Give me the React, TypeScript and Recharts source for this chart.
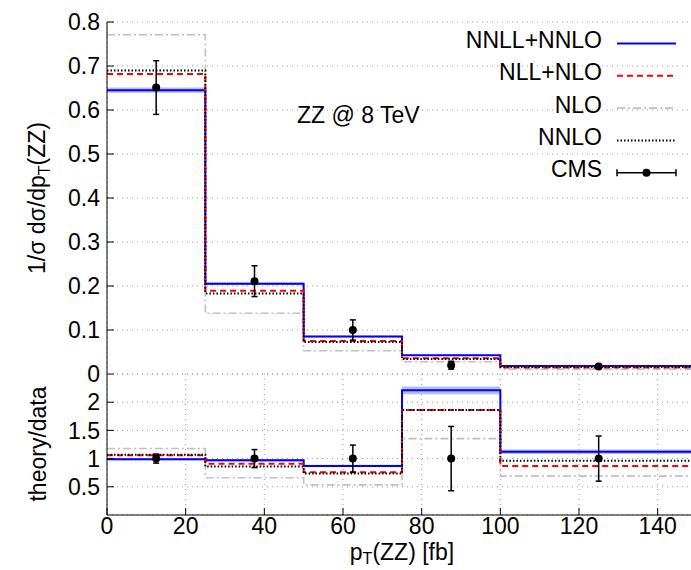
import React from 'react';
import { ComposedChart, Line, Area, Scatter, ErrorBar, XAxis, YAxis, CartesianGrid } from 'recharts';

// ---- data ----
const binEdges = [0, 25, 50, 75, 100, 150];

const nnllNnlo = [0.645, 0.205, 0.085, 0.0425, 0.018];
const nnllNnloUnc = [0.006, 0.003, 0.002, 0.0015, 0.001];
const nllNlo = [0.682, 0.189, 0.075, 0.036, 0.015];
const nlo = [0.771, 0.138, 0.053, 0.028, 0.011];
const nnlo = [0.69, 0.183, 0.073, 0.034, 0.016];

const cmsX = [12.5, 37.5, 62.5, 87.5, 125];
const cmsY = [0.651, 0.211, 0.1, 0.02, 0.017];
const cmsErr = [0.061, 0.035, 0.023, 0.009, 0.004];

const ratioNnllNnlo = [0.99, 0.97, 0.87, 2.21, 1.12];
const ratioNnllNnloUnc = [0.02, 0.02, 0.02, 0.07, 0.04];
const ratioNllNlo = [1.06, 0.91, 0.76, 1.86, 0.87];
const ratioNlo = [1.18, 0.66, 0.535, 1.355, 0.69];
const ratioNnlo = [1.07, 0.86, 0.735, 1.86, 0.96];
const ratioCms = [1, 1, 1, 1, 1];
const ratioCmsErr = [0.08, 0.16, 0.24, 0.57, 0.4];

const xTicks = [0, 20, 40, 60, 80, 100, 120, 140];
const topYTicks = [0, 0.1, 0.2, 0.3, 0.4, 0.5, 0.6, 0.7, 0.8];
const bottomYTicks = [0.5, 1, 1.5, 2];

const legendLabels = ['NNLL+NNLO', 'NLL+NLO', 'NLO', 'NNLO', 'CMS'];
const annotation = 'ZZ @ 8 TeV';

// ---- build tables ----
const buildSteps = (a: number[], b: number[], c: number[], d: number[], band: number[]) =>
  binEdges.map((x, i) => {
    const k = Math.min(i, a.length - 1);
    return {
      x,
      nnll: a[k],
      nll: b[k],
      nlo: c[k],
      nnlo: d[k],
      band: [a[k] - band[k], a[k] + band[k]],
    };
  });

const topData = buildSteps(nnllNnlo, nllNlo, nlo, nnlo, nnllNnloUnc);
const bottomData = buildSteps(ratioNnllNnlo, ratioNllNlo, ratioNlo, ratioNnlo, ratioNnllNnloUnc);
const cmsTop = cmsX.map((x, i) => ({ x, y: cmsY[i], err: cmsErr[i] }));
const cmsBottom = cmsX.map((x, i) => ({ x, y: ratioCms[i], err: ratioCmsErr[i] }));

const FONT = "'Liberation Sans', Arial, Helvetica, sans-serif";
const FS = 23;

const BLUE = '#0000ff';
const RED = '#ff0000';
const GRAY = '#c0c0c0';
const BAND = '#b8bcf2';

const dotShape = (p: any) => <circle cx={p.cx} cy={p.cy} r={4} fill="#000" />;

const tickStyle = { fontSize: FS, fill: '#000', fontFamily: FONT };
const axisLine = { stroke: '#000', strokeWidth: 1 };

const seriesLines = () => [
  <Area key="band" type="stepAfter" dataKey="band" stroke="none" fill={BAND} fillOpacity={1} isAnimationActive={false} activeDot={false} />,
  <Line key="nlo" type="stepAfter" dataKey="nlo" stroke={GRAY} strokeWidth={1.6} strokeDasharray="8 3 2 3" dot={false} activeDot={false} isAnimationActive={false} />,
  <Line key="nnll" type="stepAfter" dataKey="nnll" stroke={BLUE} strokeWidth={2} dot={false} activeDot={false} isAnimationActive={false} />,
  <Line key="nll" type="stepAfter" dataKey="nll" stroke={RED} strokeWidth={2} strokeDasharray="6 4" dot={false} activeDot={false} isAnimationActive={false} />,
  <Line key="nnlo" type="stepAfter" dataKey="nnlo" stroke="#000" strokeWidth={2} strokeDasharray="1.5 2" dot={false} activeDot={false} isAnimationActive={false} />,
];

const W = 720;
const H = 570;

export default function App() {
  return (
    <div style={{ position: 'absolute', left: 0, top: 0, width: 691, height: 570, overflow: 'hidden', background: '#fff' }}>
      {/* top panel */}
      <div style={{ position: 'absolute', left: 0, top: 0 }}>
        <ComposedChart width={W} height={H} data={topData} margin={{ top: 22, right: 23, bottom: 196, left: 0 }}>
          <CartesianGrid stroke="#9a9a9a" strokeDasharray="1 4" />
          <XAxis type="number" dataKey="x" domain={[0, 150]} ticks={xTicks} interval={0} allowDataOverflow height={0}
            tick={false} tickSize={-7} axisLine={axisLine} tickLine={axisLine} />
          <XAxis xAxisId="top" orientation="top" type="number" dataKey="x" domain={[0, 150]} ticks={xTicks} interval={0} allowDataOverflow height={0}
            tick={false} tickSize={-7} axisLine={axisLine} tickLine={axisLine} />
          <YAxis type="number" domain={[0, 0.8]} ticks={topYTicks} interval={0} allowDataOverflow width={107}
            tickSize={-7} tickMargin={14} tick={tickStyle} axisLine={axisLine} tickLine={axisLine} tickFormatter={(v: number) => String(v)} />
          {seriesLines()}
          <Scatter data={cmsTop} dataKey="y" fill="#000" shape={dotShape} isAnimationActive={false}>
            <ErrorBar dataKey="err" direction="y" width={3} stroke="#000" strokeWidth={1.5} isAnimationActive={false} />
          </Scatter>
        </ComposedChart>
      </div>
      {/* ratio panel */}
      <div style={{ position: 'absolute', left: 0, top: 0 }}>
        <ComposedChart width={W} height={H} data={bottomData} margin={{ top: 374, right: 23, bottom: 0, left: 0 }}>
          <CartesianGrid stroke="#9a9a9a" strokeDasharray="1 4" />
          <XAxis type="number" dataKey="x" domain={[0, 150]} ticks={xTicks} interval={0} allowDataOverflow height={55}
            tickSize={-7} tickMargin={10} tick={tickStyle} axisLine={axisLine} tickLine={axisLine} tickFormatter={(v: number) => String(v)} />
          <YAxis type="number" domain={[0, 2.5]} ticks={bottomYTicks} interval={0} allowDataOverflow width={107}
            tickSize={-7} tickMargin={14} tick={tickStyle} axisLine={axisLine} tickLine={axisLine} tickFormatter={(v: number) => String(v)} />
          {seriesLines()}
          <Scatter data={cmsBottom} dataKey="y" fill="#000" shape={dotShape} isAnimationActive={false}>
            <ErrorBar dataKey="err" direction="y" width={3} stroke="#000" strokeWidth={1.5} isAnimationActive={false} />
          </Scatter>
        </ComposedChart>
      </div>
      {/* titles, annotation and legend */}
      <svg width={691} height={570} style={{ position: 'absolute', left: 0, top: 0, pointerEvents: 'none' }} fontFamily={FONT} fontSize={FS}>
        <text x={297} y={122.5} fill="#000">{annotation}</text>
        <text transform="translate(45,198) rotate(-90)" textAnchor="middle" fill="#000">
          1/σ dσ/dp<tspan fontSize={16} dy={5}>T</tspan><tspan dy={-5}>(ZZ)</tspan>
        </text>
        <text transform="translate(46,444) rotate(-90)" textAnchor="middle" fill="#000">theory/data</text>
        <text x={402} y={560} textAnchor="middle" fill="#000">
          p<tspan fontSize={16} dy={4}>T</tspan><tspan dy={-4}>(ZZ) [fb]</tspan>
        </text>
        {legendLabels.map((lab, i) => {
          const yb = 48 + i * 32.3;
          const yl = 43.5 + i * 32.3;
          let sample: React.ReactNode = null;
          if (i === 0) sample = <line x1={617} x2={676} y1={yl} y2={yl} stroke={BLUE} strokeWidth={2} />;
          if (i === 1) sample = <line x1={617} x2={676} y1={yl} y2={yl} stroke={RED} strokeWidth={2} strokeDasharray="6 4" />;
          if (i === 2) sample = <line x1={617} x2={676} y1={yl} y2={yl} stroke={GRAY} strokeWidth={1.6} strokeDasharray="8 3 2 3" />;
          if (i === 3) sample = <line x1={617} x2={676} y1={yl} y2={yl} stroke="#000" strokeWidth={2} strokeDasharray="1.5 2" />;
          if (i === 4)
            sample = (
              <g stroke="#000" strokeWidth={1.5}>
                <line x1={617} x2={676} y1={yl} y2={yl} />
                <line x1={617} x2={617} y1={yl - 3.5} y2={yl + 3.5} />
                <line x1={676} x2={676} y1={yl - 3.5} y2={yl + 3.5} />
                <circle cx={646.5} cy={yl} r={4} fill="#000" stroke="none" />
              </g>
            );
          return (
            <g key={lab}>
              <text x={602} y={yb} textAnchor="end" fill="#000">{lab}</text>
              {sample}
            </g>
          );
        })}
      </svg>
    </div>
  );
}
